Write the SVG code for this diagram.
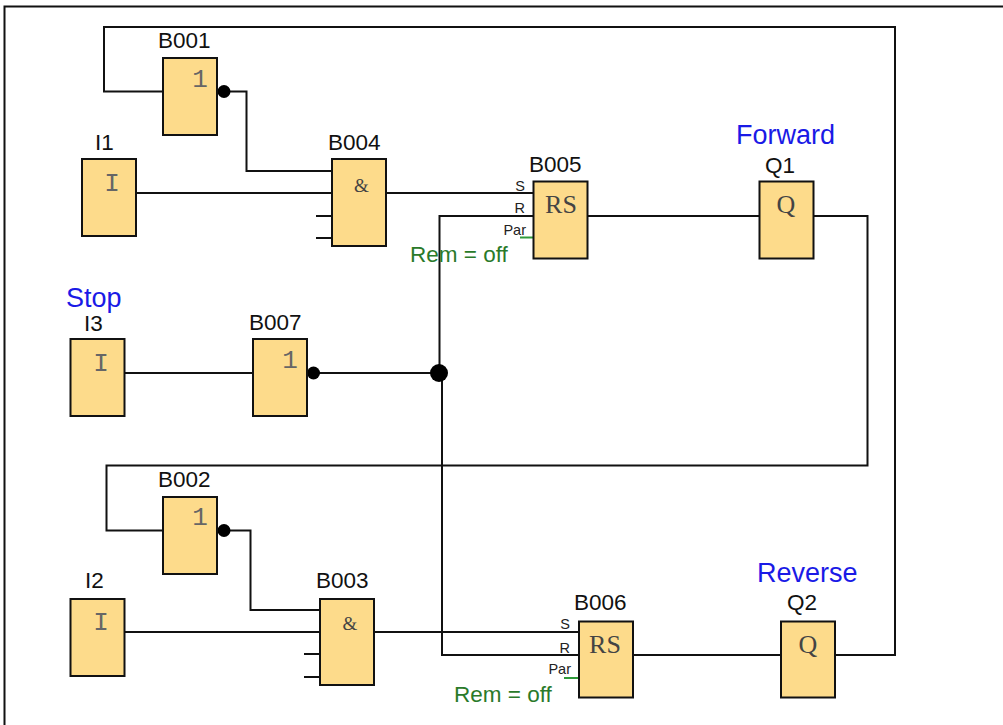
<svg xmlns="http://www.w3.org/2000/svg" width="1003" height="725" viewBox="0 0 1003 725">
<style>
.b{fill:#fddb8b;stroke:#111;stroke-width:2}
.w{fill:none;stroke:#111;stroke-width:2}
.g{fill:none;stroke:#2e9a3a;stroke-width:2}
.n{font:22.500px "Liberation Sans",Arial,sans-serif;fill:#111}
.s{font:26px "Liberation Mono",monospace;fill:#666;text-anchor:middle}
.t{font:26px "Liberation Serif",serif;fill:#444;text-anchor:middle}
.p{font:14.500px "Liberation Sans",Arial,sans-serif;fill:#222;text-anchor:end}
.bl{font:27px "Liberation Sans",Arial,sans-serif;fill:#1a1ae6}
.r{font:22.500px "Liberation Sans",Arial,sans-serif;fill:#2a7a2a}
</style>
<rect width="1003" height="725" fill="#fff"/>
<path d="M4.500 725V6.500H1003" fill="none" stroke="#111" stroke-width="2"/>
<g id="connectors">
<path class="w" d="M163 91.500H104V27H895V655H835"/>
<path class="w" d="M217 91.500H246.500V171H332"/>
<path class="w" d="M136 193H332M316 216H332M316 238H332"/>
<path class="w" d="M386 193H533.500"/>
<path class="w" d="M533.500 216H439.500V373"/>
<path class="w" d="M442 373V655H579"/>
<path class="w" d="M588 216H759.500"/>
<path class="w" d="M813.500 216H867.500V465.500H106.500V530.500H163"/>
<path class="w" d="M125 373H253"/>
<path class="w" d="M307 373H439"/>
<path class="w" d="M217 530.500H250.500V610H320"/>
<path class="w" d="M125 632H320M304 654H320M304 677H320"/>
<path class="w" d="M374 632H579"/>
<path class="w" d="M634 655H781"/>
<path class="g" d="M520 237.500H533.500"/>
<path class="g" d="M564 678H579"/>
<circle cx="224" cy="91.500" r="6.500" fill="#000"/>
<circle cx="313.500" cy="373" r="6.500" fill="#000"/>
<circle cx="224" cy="530.500" r="6.500" fill="#000"/>
<circle cx="439" cy="373" r="9" fill="#000"/>
</g>
<g id="B001"><rect class="b" x="163" y="58" width="54" height="77"/><text class="n" x="158" y="48">B001</text><text class="s" x="200" y="87">1</text></g>
<g id="I1"><rect class="b" x="82" y="159" width="54" height="77"/><text class="n" x="95" y="150">I1</text><text class="s" x="112" y="191">I</text></g>
<g id="B004"><rect class="b" x="332" y="159" width="54" height="87"/><text class="n" x="328" y="150">B004</text><text class="t" x="361.500" y="192" style="font-size:19px">&amp;</text></g>
<g id="B005"><rect class="b" x="533.500" y="181.500" width="54" height="77"/><text class="n" x="529" y="172">B005</text><text class="t" x="561" y="213">RS</text><text class="p" x="525" y="191">S</text><text class="p" x="525" y="213">R</text><text class="p" x="526" y="235">Par</text></g>
<text class="r" x="410" y="262">Rem = off</text>
<g id="Q1"><rect class="b" x="759.500" y="181.500" width="54" height="77"/><text class="n" x="765" y="173">Q1</text><text class="t" x="786" y="213">Q</text><text class="bl" x="736" y="144">Forward</text></g>
<g id="I3"><rect class="b" x="70.500" y="339" width="54" height="77"/><text class="n" x="84" y="331">I3</text><text class="s" x="101" y="371">I</text><text class="bl" x="66" y="307">Stop</text></g>
<g id="B007"><rect class="b" x="253" y="339" width="54" height="77"/><text class="n" x="249" y="330">B007</text><text class="s" x="290" y="368">1</text></g>
<g id="B002"><rect class="b" x="163" y="497" width="54" height="77"/><text class="n" x="158" y="487">B002</text><text class="s" x="200" y="525">1</text></g>
<g id="I2"><rect class="b" x="70.500" y="599" width="54" height="77"/><text class="n" x="85" y="588">I2</text><text class="s" x="101" y="630">I</text></g>
<g id="B003"><rect class="b" x="320" y="599" width="54" height="86"/><text class="n" x="316" y="588">B003</text><text class="t" x="350" y="630" style="font-size:19px">&amp;</text></g>
<g id="B006"><rect class="b" x="579" y="621.500" width="54" height="76"/><text class="n" x="574" y="610">B006</text><text class="t" x="605" y="653">RS</text><text class="p" x="570" y="629">S</text><text class="p" x="570" y="653">R</text><text class="p" x="571" y="674">Par</text></g>
<text class="r" x="454" y="702">Rem = off</text>
<g id="Q2"><rect class="b" x="781" y="621.500" width="54" height="76"/><text class="n" x="787" y="610">Q2</text><text class="t" x="808" y="653">Q</text><text class="bl" x="757" y="582">Reverse</text></g>
</svg>
